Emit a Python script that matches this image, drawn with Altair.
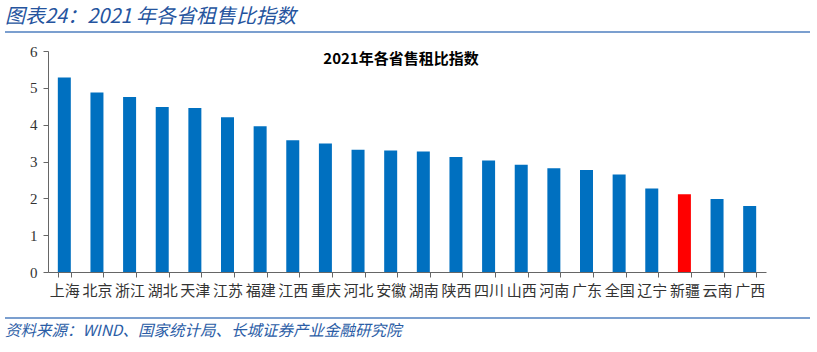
import altair as alt
import pandas as pd

provinces = ["上海", "北京", "浙江", "湖北", "天津", "江苏", "福建", "江西", "重庆", "河北", "安徽",
             "湖南", "陕西", "四川", "山西", "河南", "广东", "全国", "辽宁", "新疆", "云南", "广西"]
values = [5.28, 4.87, 4.75, 4.48, 4.45, 4.20, 3.96, 3.58, 3.49, 3.32, 3.30,
          3.27, 3.12, 3.03, 2.91, 2.82, 2.77, 2.65, 2.27, 2.11, 1.98, 1.79]
highlight = "新疆"
y_ticks = [0, 1, 2, 3, 4, 5, 6]

header_text = "图表24：2021 年各省租售比指数"
inner_title = "2021年各省售租比指数"
source_text = "资料来源：WIND、国家统计局、长城证券产业金融研究院"

df = pd.DataFrame({"省份": provinces, "指数": values})

W, H = 718, 221
PL, PT = 48, 51

bars = alt.Chart(df).mark_bar(size=13).encode(
    x=alt.X("省份:N", sort=None, title=None,
            scale=alt.Scale(paddingInner=0.6, paddingOuter=0.3),
            axis=alt.Axis(labelAngle=0, tickBand="extent", labelFont="Noto Sans CJK SC",
                          labelFontSize=15, labelColor="#333333", labelPadding=6,
                          tickSize=5, tickColor="#666666", domainColor="#666666")),
    y=alt.Y("指数:Q", title=None, scale=alt.Scale(domain=[0, 6], nice=False),
            axis=alt.Axis(values=y_ticks, labelFont="Liberation Serif", labelFontSize=15,
                          labelColor="#333333", tickSize=5, tickColor="#666666",
                          domainColor="#666666", grid=False, labelPadding=6)),
    color=alt.condition(alt.datum["省份"] == highlight, alt.value("#FF0000"), alt.value("#0070C0")),
)

one = alt.Data(values=[{}])

header = alt.Chart(one).mark_text(align="left", baseline="middle", font="Noto Sans CJK SC",
                                  fontSize=20, fontStyle="italic", color="#25549E",
                                  text=header_text).encode(
    x=alt.value(5 - PL), y=alt.value(17 - PT))
header_line = alt.Chart(one).mark_rule(color="#4F7FBF", strokeWidth=1.5).encode(
    x=alt.value(5 - PL), x2=alt.value(810 - PL), y=alt.value(32 - PT))
inner = alt.Chart(one).mark_text(align="center", baseline="middle", font="Noto Sans CJK SC",
                                 fontSize=15, fontWeight="bold", color="#000000",
                                 text=inner_title).encode(
    x=alt.value(401 - PL), y=alt.value(59 - PT))
footer_line = alt.Chart(one).mark_rule(color="#4F7FBF", strokeWidth=1.5).encode(
    x=alt.value(5 - PL), x2=alt.value(810 - PL), y=alt.value(318 - PT))
footer = alt.Chart(one).mark_text(align="left", baseline="middle", font="Noto Sans CJK SC",
                                  fontSize=15.5, fontStyle="italic", color="#2B5DA6",
                                  text=source_text).encode(
    x=alt.value(5 - PL), y=alt.value(331 - PT))

chart = alt.layer(bars, header, header_line, inner, footer_line, footer).properties(
    width=W, height=H,
    autosize=alt.AutoSizeParams(type="none"),
    padding={"left": PL, "top": PT, "right": 817 - PL - W, "bottom": 352 - PT - H},
    background="white",
).configure_view(stroke=None)

chart.save("out.html", embed_options={"renderer": "svg", "actions": False})
